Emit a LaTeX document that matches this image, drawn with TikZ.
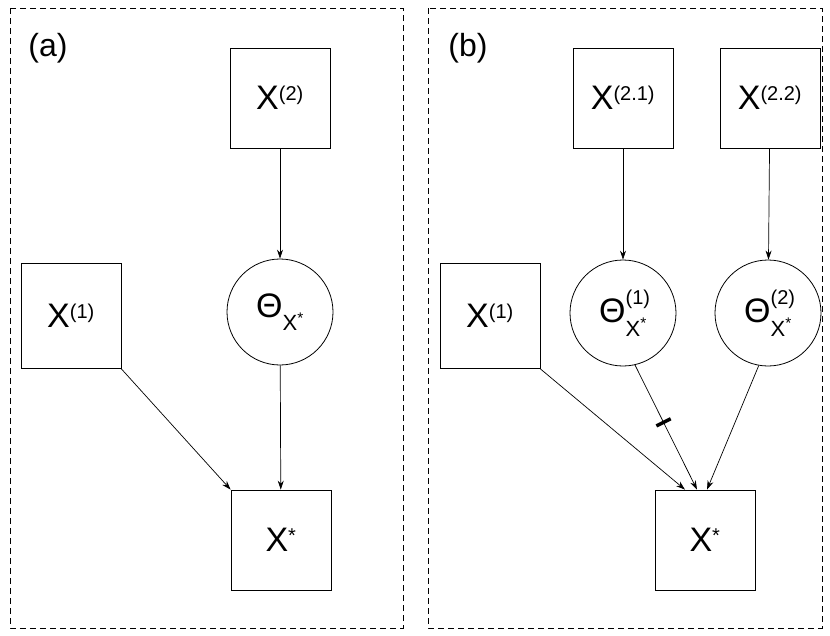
\documentclass[tikz,border=0pt]{standalone}
\usepackage{fontspec}
\setmainfont{Liberation Sans}
\usetikzlibrary{arrows.meta}
\begin{document}
\begin{tikzpicture}[x=1pt,y=-1pt,
  box/.style={draw,line width=0.8pt,minimum width=100pt,minimum height=100pt,inner sep=0,font=\fontsize{34}{36}\selectfont},
  circ/.style={draw,circle,line width=0.8pt,minimum size=106pt,inner sep=0,font=\fontsize{34}{36}\selectfont},
  arr/.style={-{Stealth[length=9pt,width=6pt]},line width=0.7pt},
  frame/.style={draw,dashed,line width=0.8pt,dash pattern=on 6pt off 4pt},
  sup/.style={}]
\newcommand{\ssup}[1]{\textsuperscript{\fontsize{20}{20}\selectfont #1}}
\newcommand{\thx}[1]{Θ\rlap{\raisebox{0.55em}{\fontsize{20}{20}\selectfont #1}}\raisebox{-0.4em}{\fontsize{22}{22}\selectfont X\textsuperscript{*}}}
\useasboundingbox (0,0) rectangle (830,635);
\path[frame] (10,8) rectangle (403,628);
\path[frame] (428,8) rectangle (822,628);
\node[font=\fontsize{32}{34}\selectfont] (la) at (48,48) {(a)};
\node[font=\fontsize{32}{34}\selectfont] (lb) at (468,48) {(b)};
% (a)
\node[box] (a2) at (280,98) {X\ssup{(2)}};
\node[circ] (at) at (280,312) {Θ\raisebox{-0.4em}{\fontsize{22}{22}\selectfont X\textsuperscript{*}}};
\node[box,minimum height=105pt] (a1) at (71,316) {X\ssup{(1)}};
\node[box] (as) at (281,540) {X\ssup{*}};
\draw[arr] (a2) -- (at);
\draw[arr] (at) -- (as);
\draw[arr] (a1.south east) -- (as.north west);
% (b)
\node[box] (b21) at (623,98) {X\ssup{(2.1)}};
\node[box] (b22) at (770,98) {X\ssup{(2.2)}};
\node[circ] (t1) at (623,313) {\thx{(1)}};
\node[circ] (t2) at (768,313) {\thx{(2)}};
\node[box,minimum height=105pt] (b1) at (490,316) {X\ssup{(1)}};
\node[box] (bs) at (705,540) {X\ssup{*}};
\draw[arr] (b21) -- (t1);
\draw[arr] (b22) -- (t2);
\draw[arr] (b1.south east) -- ([xshift=-20pt]bs.north);
\draw[arr] (t1.-77) -- node[pos=0.46,sloped,fill=black,minimum width=3.5pt,minimum height=16pt,inner sep=0]{} ([xshift=-8pt]bs.north);
\draw[arr] (t2.-100) -- ([xshift=2pt]bs.north);
\end{tikzpicture}
\end{document}
